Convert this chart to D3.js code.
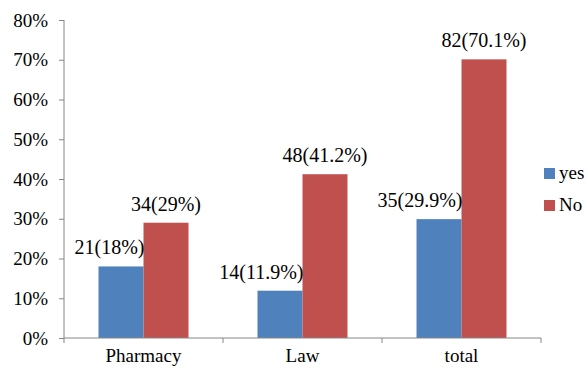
<!DOCTYPE html>
<html>
<head>
<meta charset="utf-8">
<script src="https://cdn.jsdelivr.net/npm/d3@7"></script>
<style>
  body { margin: 0; background: #fff; }
</style>
</head>
<body>
<svg width="588" height="368"></svg>
<script>
// data
var categories = ["Pharmacy", "Law", "total"];
var series = ["yes", "No"];
var yesValues = [18, 11.9, 29.9];
var noValues = [29, 41.2, 70.1];
var yesCounts = [21, 14, 35];
var noCounts = [34, 48, 82];
var yTicks = [0, 10, 20, 30, 40, 50, 60, 70, 80];

var colors = { yes: "#4F81BD", No: "#C0504D" };
var axisColor = "#868686";

var svg = d3.select("svg");

var x = d3.scaleBand().domain(categories).range([64, 541]);
var x1 = d3.scaleBand().domain(series).range([0, x.bandwidth()]).paddingOuter(0.767);
var y = d3.scaleLinear().domain([0, 80]).range([338, 20]);

var rows = categories.map(function (c, i) {
  return [
    { cat: c, key: "yes", value: yesValues[i], count: yesCounts[i] },
    { cat: c, key: "No", value: noValues[i], count: noCounts[i] }
  ];
});

// bars
var groups = svg.selectAll("g.cat")
  .data(rows)
  .enter()
  .append("g")
  .attr("class", "cat")
  .attr("transform", function (d) { return "translate(" + x(d[0].cat) + ",0)"; });

groups.selectAll("rect")
  .data(function (d) { return d; })
  .enter()
  .append("rect")
  .attr("x", function (d) { return x1(d.key); })
  .attr("y", function (d) { return y(d.value); })
  .attr("width", x1.bandwidth())
  .attr("height", function (d) { return y(0) - y(d.value); })
  .attr("fill", function (d) { return colors[d.key]; });

// axes (lines only, labels go in their own layer)
var yAxis = svg.append("g")
  .attr("transform", "translate(64,0)")
  .call(d3.axisLeft(y).tickValues(yTicks).tickSize(5).tickFormat(""));
yAxis.select(".domain").attr("stroke", axisColor).attr("d", "M0," + y(80) + "V" + y(0));
yAxis.selectAll(".tick line").attr("stroke", axisColor);

var xAxis = svg.append("g")
  .attr("transform", "translate(0,338)")
  .call(d3.axisBottom(x).tickSize(0).tickFormat(""));
xAxis.select(".domain").attr("stroke", axisColor).attr("d", "M64,0H541");
xAxis.selectAll("line.sep")
  .data(d3.range(categories.length + 1))
  .enter()
  .append("line")
  .attr("class", "sep")
  .attr("x1", function (i) { return x.range()[0] + i * x.step(); })
  .attr("x2", function (i) { return x.range()[0] + i * x.step(); })
  .attr("y1", 0)
  .attr("y2", 5)
  .attr("stroke", axisColor);

// text layer; anchoring done by measuring, serif font set per element
var texts = svg.append("g");
function label(px, py, txt, anchor, size) {
  var t = texts.append("text")
    .attr("y", py)
    .style("font-family", "'Liberation Serif'")
    .style("font-size", (size || 19) + "px")
    .text(txt);
  var w = t.node().getComputedTextLength();
  var shift = anchor === "end" ? w : anchor === "middle" ? w / 2 : 0;
  t.attr("x", px - shift);
  return t;
}

// value labels: red ones centred, blue ones end at the bar's right edge
rows.forEach(function (r) {
  r.forEach(function (b) {
    var txt = b.count + "(" + b.value + "%)";
    var left = x(b.cat) + x1(b.key);
    var py = y(b.value) - 12;
    if (b.key === "yes") label(left + x1.bandwidth() + 1, py, txt, "end", 20);
    else label(left + x1.bandwidth() / 2, py, txt, "middle", 20);
  });
});

yTicks.forEach(function (t) {
  label(48, y(t) + 6.5, t + "%", "end");
});

categories.forEach(function (c) {
  label(x(c) + x.bandwidth() / 2, 362, c, "middle");
});

// legend
series.forEach(function (s, i) {
  var ly = 168 + i * 32;
  svg.append("rect")
    .attr("x", 544)
    .attr("y", ly)
    .attr("width", 11)
    .attr("height", 11)
    .attr("fill", colors[s]);
  label(559, ly + 11, s, "start");
});
</script>
</body>
</html>
